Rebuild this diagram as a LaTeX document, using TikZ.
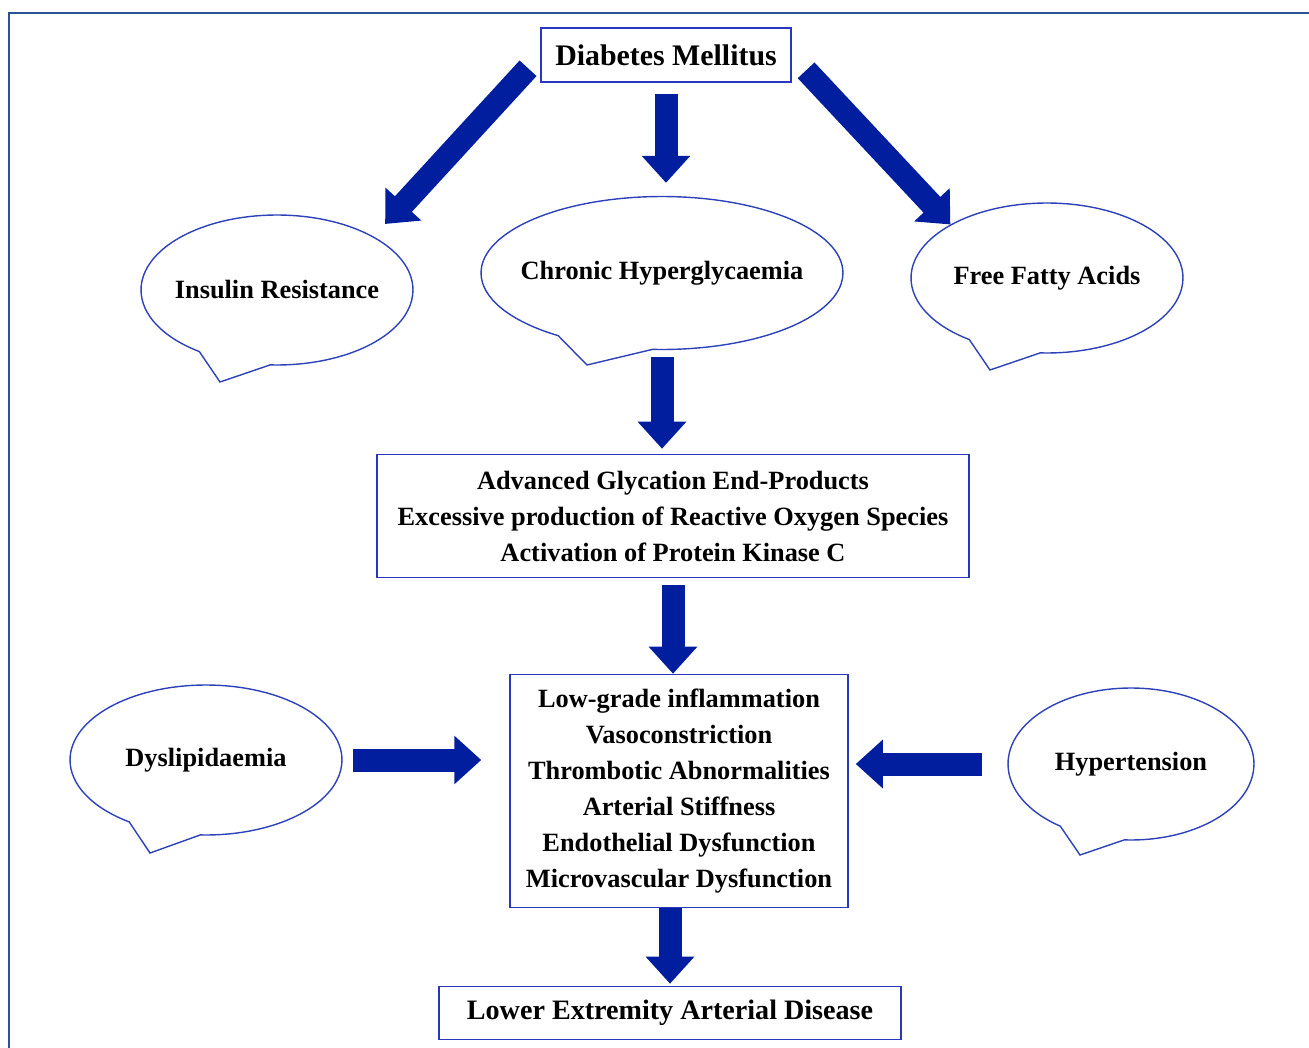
\documentclass[tikz,border=0pt]{standalone}
\usepackage{fontspec}
\setmainfont{Liberation Serif}
\usetikzlibrary{shapes.callouts,arrows.meta}
\definecolor{arrowblue}{RGB}{0,30,158}
\definecolor{boxblue}{RGB}{40,55,190}
\definecolor{bubbleblue}{RGB}{45,65,185}
\definecolor{frameblue}{RGB}{43,82,146}
\begin{document}
\begin{tikzpicture}[x=0.02cm, y=-0.02cm,
		box/.style={draw=boxblue, line width=0.9pt, align=center, inner sep=2pt, font=\fontsize{15}{20.5}\selectfont\bfseries},
		bubble/.style={ellipse callout, draw=bubbleblue, line width=0.8pt, callout pointer arc=32, align=center, inner ysep=0pt, inner xsep=-0.3cm, font=\fontsize{15}{18}\selectfont\bfseries},
		fat/.style={arrowblue, line width=0.46cm, -{Triangle[length=0.54cm, width=0.94cm]}}]
				\useasboundingbox (0,0) rectangle (1309,1048);
				%frame
				\draw[frameblue, line width=0.06cm] (9,1060) -- (9,13) -- (1320,13);
				
				%boxes
				\node[box, minimum width=5cm, minimum height=1.08cm, font=\fontsize{17}{20}\selectfont\bfseries] (dm) at (666,55) {Diabetes Mellitus};
				\node[box, minimum width=11.84cm, minimum height=2.46cm] (agep) at (673,516) {Advanced Glycation End-Products\\Excessive production of Reactive Oxygen Species\\Activation of Protein Kinase C};
				\node[box, minimum width=6.76cm, minimum height=4.66cm] (mech) at (679,791) {Low-grade inflammation\\Vasoconstriction\\Thrombotic Abnormalities\\Arterial Stiffness\\Endothelial Dysfunction\\Microvascular Dysfunction};
				\node[box, minimum width=9.24cm, minimum height=1.06cm, font=\fontsize{16}{20}\selectfont\bfseries] (lead) at (670,1013) {Lower Extremity Arterial Disease};
				
				%callouts
				\node[bubble, minimum width=5.44cm, minimum height=3cm, callout absolute pointer={(220,382)}] (ir) at (277,290) {Insulin Resistance};
				\node[bubble, minimum width=7.24cm, minimum height=3.06cm, callout absolute pointer={(587,365)}] (ch) at (662,273) {Chronic Hyperglycaemia};
				\node[bubble, minimum width=5.44cm, minimum height=3cm, callout absolute pointer={(990,370)}] (ffa) at (1047,278) {Free Fatty Acids};
				\node[bubble, minimum width=5.44cm, minimum height=3cm, callout absolute pointer={(150,853)}] (dys) at (206,760) {Dyslipidaemia};
				\node[bubble, minimum width=4.92cm, minimum height=3.04cm, callout absolute pointer={(1080,855)}] (hyp) at (1131,764) {Hypertension};
				
				%arrows
				\draw[fat, shorten <=0.36cm, shorten >=0.34cm] (dm.west) -- (ir.north east);
				\draw[fat, shorten <=0.22cm, shorten >=0.26cm] (dm.south) -- (dm.south |- ch.north);
				\draw[fat, shorten <=0.42cm] (dm.east) -- (ffa.north west);
				\draw[fat, shorten <=0.14cm, shorten >=0.1cm] (ch.south) -- (ch.south |- agep.north);
				\draw[fat, shorten <=0.14cm] (agep.south) -- (agep.south |- mech.north);
				\draw[fat, shorten >=0.04cm] (lead.north |- mech.south) -- (lead.north);
				\draw[fat, shorten <=0.2cm, shorten >=0.56cm] (dys.east) -- (dys.east -| mech.west);
				\draw[fat, shorten <=0.5cm, shorten >=0.14cm] (hyp.west) -- (hyp.west -| mech.east);
			\end{tikzpicture}
\end{document}
